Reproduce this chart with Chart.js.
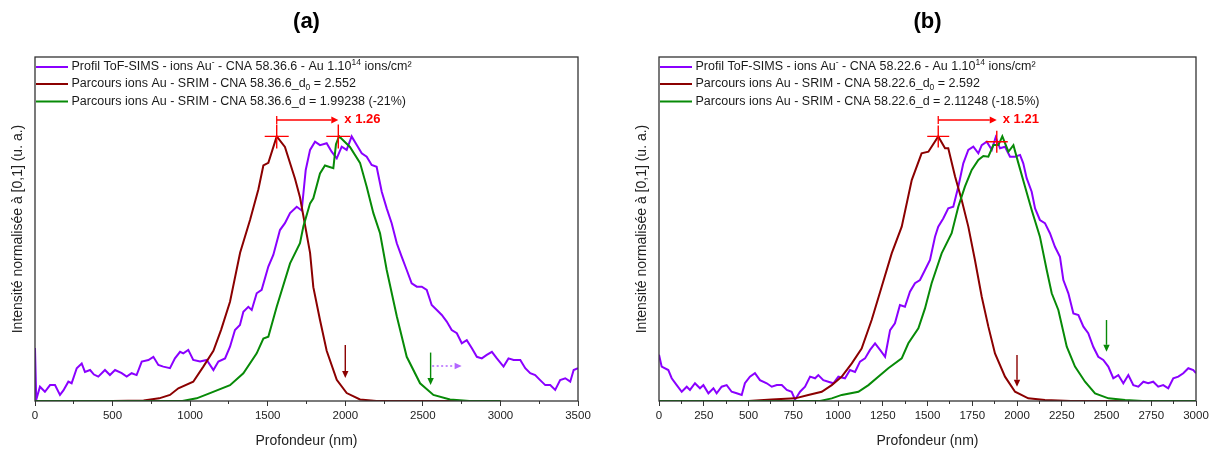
<!DOCTYPE html>
<html><head><meta charset="utf-8">
<script src="https://cdn.jsdelivr.net/npm/chart.js@4.4.1/dist/chart.umd.min.js"></script>
<style>
html,body{margin:0;padding:0;background:#fff;width:1215px;height:452px;overflow:hidden}
#wa{position:absolute;left:0;top:0;width:607px;height:452px}
#wb{position:absolute;left:607px;top:0;width:608px;height:452px}
</style></head><body>
<div id="wa"><canvas id="ca" width="607" height="452"></canvas></div>
<div id="wb"><canvas id="cb" width="608" height="452"></canvas></div>
<script>
// ---------- Panel (a) data ----------
const tofA_x = [0,8,32,64,97,129,161,183,215,236,269,301,322,355,380,408,451,483,516,559,591,623,655,688,731,763,795,827,870,902,935,956,988,1020,1064,1107,1150,1182,1225,1257,1289,1321,1343,1375,1397,1429,1461,1504,1536,1579,1611,1644,1687,1719,1745,1773,1805,1837,1880,1912,1945,1977,2009,2041,2074,2106,2138,2170,2202,2235,2267,2299,2332,2364,2396,2428,2461,2493,2525,2557,2590,2622,2654,2686,2719,2751,2783,2816,2848,2880,2912,2945,2977,3020,3052,3085,3128,3160,3192,3224,3256,3289,3321,3353,3385,3418,3450,3472,3500];
const tofA_y = [0.20,0.005,0.054,0.035,0.06,0.06,0.023,0.04,0.073,0.067,0.124,0.142,0.11,0.117,0.10,0.092,0.117,0.098,0.117,0.105,0.092,0.105,0.098,0.149,0.155,0.167,0.136,0.13,0.124,0.161,0.186,0.18,0.193,0.155,0.149,0.155,0.117,0.149,0.161,0.205,0.268,0.287,0.337,0.356,0.344,0.407,0.42,0.508,0.552,0.646,0.672,0.71,0.734,0.72,0.873,0.949,0.98,0.967,0.974,0.942,0.917,0.961,0.949,1.0,0.967,0.936,0.923,0.892,0.885,0.791,0.728,0.672,0.596,0.545,0.495,0.445,0.432,0.432,0.42,0.363,0.344,0.325,0.30,0.268,0.256,0.218,0.23,0.199,0.167,0.161,0.174,0.186,0.161,0.13,0.161,0.155,0.155,0.124,0.105,0.098,0.079,0.06,0.06,0.042,0.079,0.086,0.073,0.117,0.124];
const d0A_x = [0,500,700,800,870,924,1020,1085,1150,1200,1257,1322,1386,1440,1472,1504,1558,1611,1676,1708,1773,1794,1837,1880,1945,2009,2095,2200,3000];
const d0A_y = [0,0,0.002,0.01,0.023,0.048,0.073,0.13,0.19,0.27,0.375,0.56,0.684,0.8,0.89,0.90,1.0,0.96,0.84,0.77,0.56,0.43,0.306,0.19,0.08,0.03,0.006,0,0];
const dA_x = [0,950,1042,1128,1257,1343,1429,1472,1504,1558,1644,1708,1730,1773,1794,1837,1869,1923,1940,1960,2030,2095,2138,2181,2224,2267,2332,2396,2482,2568,2675,2800,3000];
const dA_y = [0,0,0.01,0.03,0.06,0.105,0.18,0.236,0.243,0.356,0.52,0.596,0.66,0.747,0.766,0.86,0.89,0.88,0.97,1.0,0.96,0.90,0.81,0.71,0.634,0.495,0.32,0.167,0.067,0.023,0.006,0,0];
const xLabelsA = [0,500,1000,1500,2000,2500,3000,3500];
const legendA = [
  'Profil ToF-SIMS - ions Au^{-} - CNA 58.36.6 - Au 1.10^{14} ions/cm²',
  'Parcours ions Au - SRIM - CNA 58.36.6_d_{0} = 2.552',
  'Parcours ions Au - SRIM - CNA 58.36.6_d = 1.99238 (-21%)'
];
const peaksA_x = [1558, 1955];
const peaksA_y = [1.0, 1.0];
const ratioA = 'x 1.26';

// ---------- Panel (b) data ----------
const tofB_x = [0,15,52,71,99,127,155,173,201,229,248,276,304,322,350,378,406,434,462,480,508,536,564,602,630,658,686,714,741,760,788,816,844,872,890,918,946,974,1002,1039,1067,1095,1123,1151,1179,1207,1235,1263,1291,1318,1346,1374,1402,1430,1458,1486,1514,1542,1560,1588,1616,1644,1672,1700,1728,1756,1784,1803,1831,1859,1881,1905,1933,1961,1989,2017,2035,2054,2082,2101,2128,2156,2184,2212,2240,2259,2287,2315,2343,2371,2398,2426,2454,2482,2510,2538,2566,2594,2622,2650,2678,2706,2733,2761,2789,2817,2845,2873,2901,2929,2957,2985,3000];
const tofB_y = [0.175,0.13,0.117,0.086,0.06,0.035,0.054,0.042,0.067,0.048,0.06,0.029,0.048,0.029,0.054,0.06,0.035,0.029,0.023,0.067,0.092,0.105,0.079,0.067,0.054,0.06,0.06,0.042,0.035,0.005,0.035,0.054,0.092,0.086,0.098,0.079,0.073,0.067,0.092,0.086,0.117,0.11,0.149,0.161,0.193,0.218,0.193,0.167,0.268,0.294,0.363,0.356,0.413,0.445,0.457,0.495,0.533,0.621,0.659,0.69,0.728,0.734,0.81,0.898,0.949,0.961,0.936,0.967,0.98,0.949,0.997,0.955,0.961,0.923,0.923,0.93,0.898,0.842,0.791,0.728,0.684,0.672,0.634,0.583,0.545,0.457,0.407,0.331,0.325,0.281,0.256,0.205,0.167,0.155,0.13,0.086,0.098,0.067,0.098,0.06,0.054,0.073,0.067,0.073,0.054,0.06,0.048,0.086,0.092,0.105,0.124,0.117,0.105];
const d0B_x = [0,500,629,760,834,909,965,1021,1077,1132,1188,1244,1300,1356,1412,1467,1505,1560,1598,1616,1654,1691,1728,1765,1803,1840,1877,1933,1989,2063,2156,2300,3000];
const d0B_y = [0,0,0.006,0.01,0.023,0.035,0.06,0.092,0.142,0.198,0.306,0.432,0.558,0.659,0.835,0.936,0.942,1.0,0.955,0.955,0.848,0.76,0.659,0.533,0.394,0.281,0.18,0.092,0.035,0.01,0.004,0,0];
const dB_x = [0,900,965,1021,1114,1170,1225,1281,1356,1393,1449,1486,1523,1579,1635,1672,1709,1747,1784,1812,1840,1868,1896,1918,1952,1980,2008,2045,2082,2128,2166,2194,2231,2278,2324,2380,2436,2511,2604,2700,3000];
const dB_y = [0,0,0.01,0.023,0.035,0.06,0.092,0.124,0.161,0.218,0.275,0.35,0.445,0.558,0.634,0.734,0.81,0.873,0.911,0.926,0.923,0.967,0.967,1.0,0.942,0.967,0.898,0.81,0.722,0.621,0.495,0.407,0.344,0.205,0.13,0.073,0.029,0.01,0.004,0,0];
const xLabelsB = [0,250,500,750,1000,1250,1500,1750,2000,2250,2500,2750,3000];
const legendB = [
  'Profil ToF-SIMS - ions Au^{-} - CNA 58.22.6 - Au 1.10^{14} ions/cm²',
  'Parcours ions Au - SRIM - CNA 58.22.6_d_{0} = 2.592',
  'Parcours ions Au - SRIM - CNA 58.22.6_d = 2.11248 (-18.5%)'
];
const peaksB_x = [1560, 1887];
const peaksB_y = [1.0, 0.98];
const ratioB = 'x 1.21';

// ---------- styling ----------
const FONT = '"Liberation Sans", Arial, sans-serif';
const C_TOF = '#8a00ff', C_D0 = '#8b0000', C_D = '#078a07', C_RED = '#ff0000', AXIS = '#333333';
const zip = (xs, ys) => xs.map((x, i) => ({x, y: ys[i]}));

function parseRich(s) {
  const parts = []; const re = /(\^|_)\{([^}]*)\}/g; let last = 0, m;
  while ((m = re.exec(s)) !== null) {
    if (m.index > last) parts.push({t: s.slice(last, m.index)});
    parts.push({t: m[2], sup: m[1] === '^', sub: m[1] === '_'});
    last = re.lastIndex;
  }
  if (last < s.length) parts.push({t: s.slice(last)});
  return parts;
}

function drawArrow(ctx, x1, y1, x2, y2, color, w, dash, hl, hw) {
  ctx.save();
  ctx.strokeStyle = color; ctx.fillStyle = color; ctx.lineWidth = w;
  const ang = Math.atan2(y2 - y1, x2 - x1);
  const bx = x2 - hl * Math.cos(ang), by = y2 - hl * Math.sin(ang);
  ctx.setLineDash(dash || []);
  ctx.beginPath(); ctx.moveTo(x1, y1); ctx.lineTo(bx, by); ctx.stroke();
  ctx.setLineDash([]);
  ctx.beginPath();
  ctx.moveTo(x2, y2);
  ctx.lineTo(bx + hw * Math.sin(ang), by - hw * Math.cos(ang));
  ctx.lineTo(bx - hw * Math.sin(ang), by + hw * Math.cos(ang));
  ctx.closePath(); ctx.fill();
  ctx.restore();
}

const decorPlugin = {
  id: 'decor',
  afterDraw(chart, args, opts) {
    const ctx = chart.ctx, ca = chart.chartArea;
    const xs = chart.scales.x, ys = chart.scales.y;
    // frame
    ctx.save();
    ctx.strokeStyle = AXIS; ctx.lineWidth = 1.3;
    ctx.strokeRect(ca.left, ca.top, ca.right - ca.left, ca.bottom - ca.top);
    ctx.restore();
    // legend
    const colors = [C_TOF, C_D0, C_D];
    const rowY = [67, 84, 101.5];
    opts.legend.forEach((txt, i) => {
      const y = ca.top + rowY[i] - 57;
      ctx.save();
      ctx.strokeStyle = colors[i]; ctx.lineWidth = 2;
      ctx.beginPath(); ctx.moveTo(ca.left + 1, y); ctx.lineTo(ca.left + 33, y); ctx.stroke();
      let x = ca.left + 36.5;
      ctx.fillStyle = '#1a1a1a'; ctx.textBaseline = 'middle'; ctx.textAlign = 'left';
      parseRich(txt).forEach(p => {
        if (p.sup || p.sub) {
          ctx.font = '8.5px ' + FONT;
          const dy = p.sup ? -4.5 : 3.5;
          ctx.fillText(p.t, x, y + dy);
          x += ctx.measureText(p.t).width;
        } else {
          ctx.font = '12.5px ' + FONT;
          ctx.fillText(p.t, x, y);
          x += ctx.measureText(p.t).width;
        }
      });
      ctx.restore();
    });
    // ratio arrow
    const px1 = xs.getPixelForValue(opts.peaks[0]);
    const px2 = xs.getPixelForValue(opts.peaks[1]);
    const py = ys.getPixelForValue(opts.ratioY);
    ctx.save();
    ctx.strokeStyle = C_RED; ctx.lineWidth = 1.3;
    ctx.beginPath(); ctx.moveTo(px1, py - 4); ctx.lineTo(px1, py + 4); ctx.stroke();
    ctx.restore();
    drawArrow(ctx, px1, py, px2, py, C_RED, 1.3, null, 7, 3.5);
    ctx.save();
    ctx.fillStyle = C_RED; ctx.font = 'bold 13px ' + FONT;
    ctx.textBaseline = 'middle'; ctx.textAlign = 'left';
    ctx.fillText(opts.ratioText, px2 + 6, py - 1);
    ctx.restore();
    // vertical / dotted arrows
    opts.arrows.forEach(a => {
      drawArrow(ctx, xs.getPixelForValue(a.x1), ys.getPixelForValue(a.y1),
                xs.getPixelForValue(a.x2), ys.getPixelForValue(a.y2),
                a.color, a.w || 1.4, a.dash, 7, 3.2);
    });
  }
};

function makeChart(id, cfg) {
  const minorDash = ctx => (cfg.labels.includes(ctx.tick && ctx.tick.value) ? [] : [3, 100]);
  return new Chart(document.getElementById(id), {
    type: 'line',
    data: {
      datasets: [
        {data: zip(cfg.tof[0], cfg.tof[1]), borderColor: C_TOF, borderWidth: 2, pointRadius: 0, tension: 0, order: 3},
        {data: zip(cfg.d0[0], cfg.d0[1]), borderColor: C_D0, borderWidth: 2, pointRadius: 0, tension: 0, order: 2},
        {data: zip(cfg.d[0], cfg.d[1]), borderColor: C_D, borderWidth: 2, pointRadius: 0, tension: 0, order: 1},
        {data: zip(cfg.peaks[0], cfg.peaks[1]), showLine: false, pointStyle: 'cross', pointRadius: cfg.crossR,
         pointBorderColor: C_RED, pointBorderWidth: 1.4, borderColor: C_RED, order: 0}
      ]
    },
    options: {
      responsive: false, animation: false, devicePixelRatio: 1,
      layout: {padding: {left: cfg.padL, right: cfg.padR, top: 0, bottom: 0}},
      plugins: {
        legend: {display: false}, tooltip: {enabled: false},
        title: {display: true, text: cfg.title, fullSize: false, color: '#000',
                font: {family: FONT, size: 22, weight: 'bold'}, padding: {top: 9, bottom: 21.6}},
        decor: {legend: cfg.legend, peaks: cfg.peaks[0], ratioY: 1.062, ratioText: cfg.ratio, arrows: cfg.arrows}
      },
      scales: {
        x: {
          type: 'linear', min: 0, max: cfg.max,
          afterFit: s => { s.height = 51; },
          border: {display: false},
          grid: {display: true, drawOnChartArea: false, drawTicks: true, tickLength: 5, color: AXIS, tickColor: AXIS,
                 lineWidth: 1, tickBorderDash: minorDash},
          ticks: {stepSize: cfg.step, autoSkip: false, maxRotation: 0, padding: 3, color: '#222',
                  font: {family: FONT, size: 11.5},
                  callback: v => (cfg.labels.includes(v) ? String(v) : '')},
          title: {display: true, text: 'Profondeur (nm)', color: '#222', font: {family: FONT, size: 14},
                  padding: {top: 0, bottom: 2.5}}
        },
        y: {
          min: 0, max: 1.3,
          afterFit: s => { s.width = 35; },
          border: {display: false},
          grid: {display: false},
          ticks: {display: false},
          title: {display: true, text: 'Intensité normalisée à [0,1] (u. a.)', color: '#222',
                  font: {family: FONT, size: 14}, padding: {top: 9.6, bottom: 0}}
        }
      }
    },
    plugins: [decorPlugin]
  });
}

makeChart('ca', {
  title: '(a)', max: 3500, step: 250, labels: xLabelsA, padL: 0, padR: 29,
  tof: [tofA_x, tofA_y], d0: [d0A_x, d0A_y], d: [dA_x, dA_y],
  peaks: [peaksA_x, peaksA_y], crossR: 12, legend: legendA, ratio: ratioA,
  arrows: [
    {x1: 2000, y1: 0.212, x2: 2000, y2: 0.087, color: C_D0},
    {x1: 2550, y1: 0.183, x2: 2550, y2: 0.06, color: C_D},
    {x1: 2560, y1: 0.132, x2: 2750, y2: 0.132, color: '#b266ff', dash: [2, 2.5], w: 1.4}
  ]
});
makeChart('cb', {
  title: '(b)', max: 3000, step: 125, labels: xLabelsB, padL: 17, padR: 19,
  tof: [tofB_x, tofB_y], d0: [d0B_x, d0B_y], d: [dB_x, dB_y],
  peaks: [peaksB_x, peaksB_y], crossR: 11, legend: legendB, ratio: ratioB,
  arrows: [
    {x1: 2000, y1: 0.174, x2: 2000, y2: 0.054, color: C_D0},
    {x1: 2500, y1: 0.306, x2: 2500, y2: 0.186, color: C_D}
  ]
});
</script>
</body></html>
